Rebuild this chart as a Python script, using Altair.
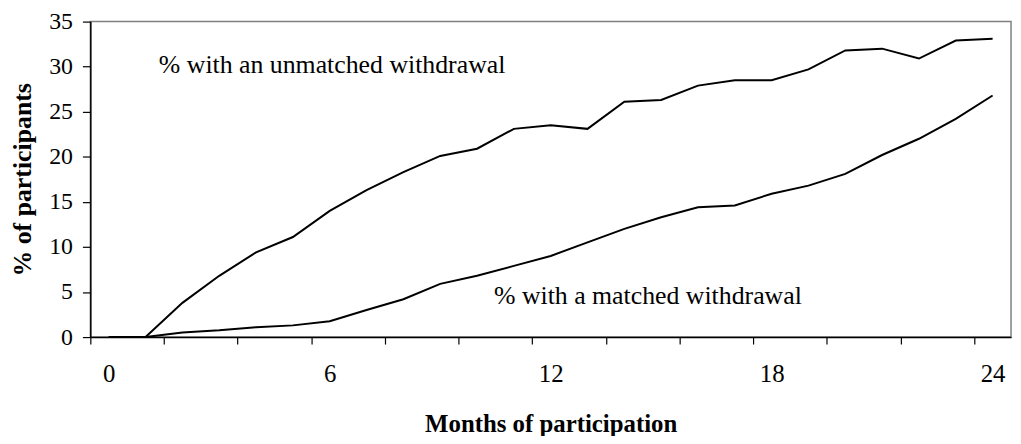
import altair as alt
import pandas as pd

months = list(range(25))
unmatched = [0, 0, 3.8, 6.8, 9.4, 11.1, 14.0, 16.3, 18.3, 20.1, 20.9, 23.1, 23.5, 23.1,
             26.1, 26.3, 27.9, 28.5, 28.5, 29.7, 31.8, 32.0, 30.9, 32.9, 33.1]
matched = [0, 0, 0.5, 0.75, 1.1, 1.3, 1.75, 3.0, 4.2, 5.9, 6.8, 7.9, 9.0, 10.5,
           12.0, 13.3, 14.4, 14.6, 15.9, 16.8, 18.1, 20.2, 22.0, 24.2, 26.8]
series_names = ["% with an unmatched withdrawal", "% with a matched withdrawal"]
label_x = [1.36, 10.46]
label_y = [30.2, 4.6]

rows = []
for m, u, a in zip(months, unmatched, matched):
    rows.append({"month": m, "value": u, "series": series_names[0]})
    rows.append({"month": m, "value": a, "series": series_names[1]})
df = pd.DataFrame(rows)
labels = pd.DataFrame({"x": label_x, "y": label_y, "text": series_names})

FONT = "Liberation Serif"
W, H = 928, 318
cat_w = W / 25.0
tick_vals = [i - 0.5 for i in range(26)]

xscale = alt.Scale(domain=[-0.5, 24.5], nice=False, zero=False)
yscale = alt.Scale(domain=[0, 35], nice=False)

common = dict(labelFont=FONT, titleFont=FONT,
              labelColor="black", titleColor="black", titleFontWeight="bold",
              grid=False, domainColor="black", tickColor="black",
              domainWidth=1.5, tickWidth=1.2)

lines = alt.Chart(df).mark_line(color="black", strokeWidth=2).encode(
    x=alt.X("month:Q", scale=xscale,
            axis=alt.Axis(values=tick_vals, title="Months of participation",
                          labelExpr="(datum.value + 0.5) % 6 == 0 ? format(datum.value + 0.5, 'd') : ''",
                          labelOffset=cat_w / 2, labelOverlap=False, labelFlush=False,
                          labelFontSize=25, titleFontSize=25,
                          tickSize=7, labelPadding=18, titlePadding=25, **common)),
    y=alt.Y("value:Q", scale=yscale,
            axis=alt.Axis(values=[0, 5, 10, 15, 20, 25, 30, 35], title="% of participants",
                          labelFontSize=24, titleFontSize=26,
                          tickSize=8, labelPadding=10, titlePadding=13, **common)),
    detail="series:N",
)

text = alt.Chart(labels).mark_text(align="left", baseline="middle", font=FONT,
                                    fontSize=26, color="black").encode(
    x=alt.X("x:Q", scale=xscale),
    y=alt.Y("y:Q", scale=yscale),
    text="text:N",
)

chart = alt.layer(lines, text).properties(
    width=W, height=H,
    background="white",
    autosize=alt.AutoSizeParams(type="none"),
    padding={"left": 83, "top": 12, "right": 2, "bottom": 98},
).configure_view(stroke="#808080", strokeWidth=1.5)

chart.save("out.html", embed_options={"renderer": "svg", "actions": False})
